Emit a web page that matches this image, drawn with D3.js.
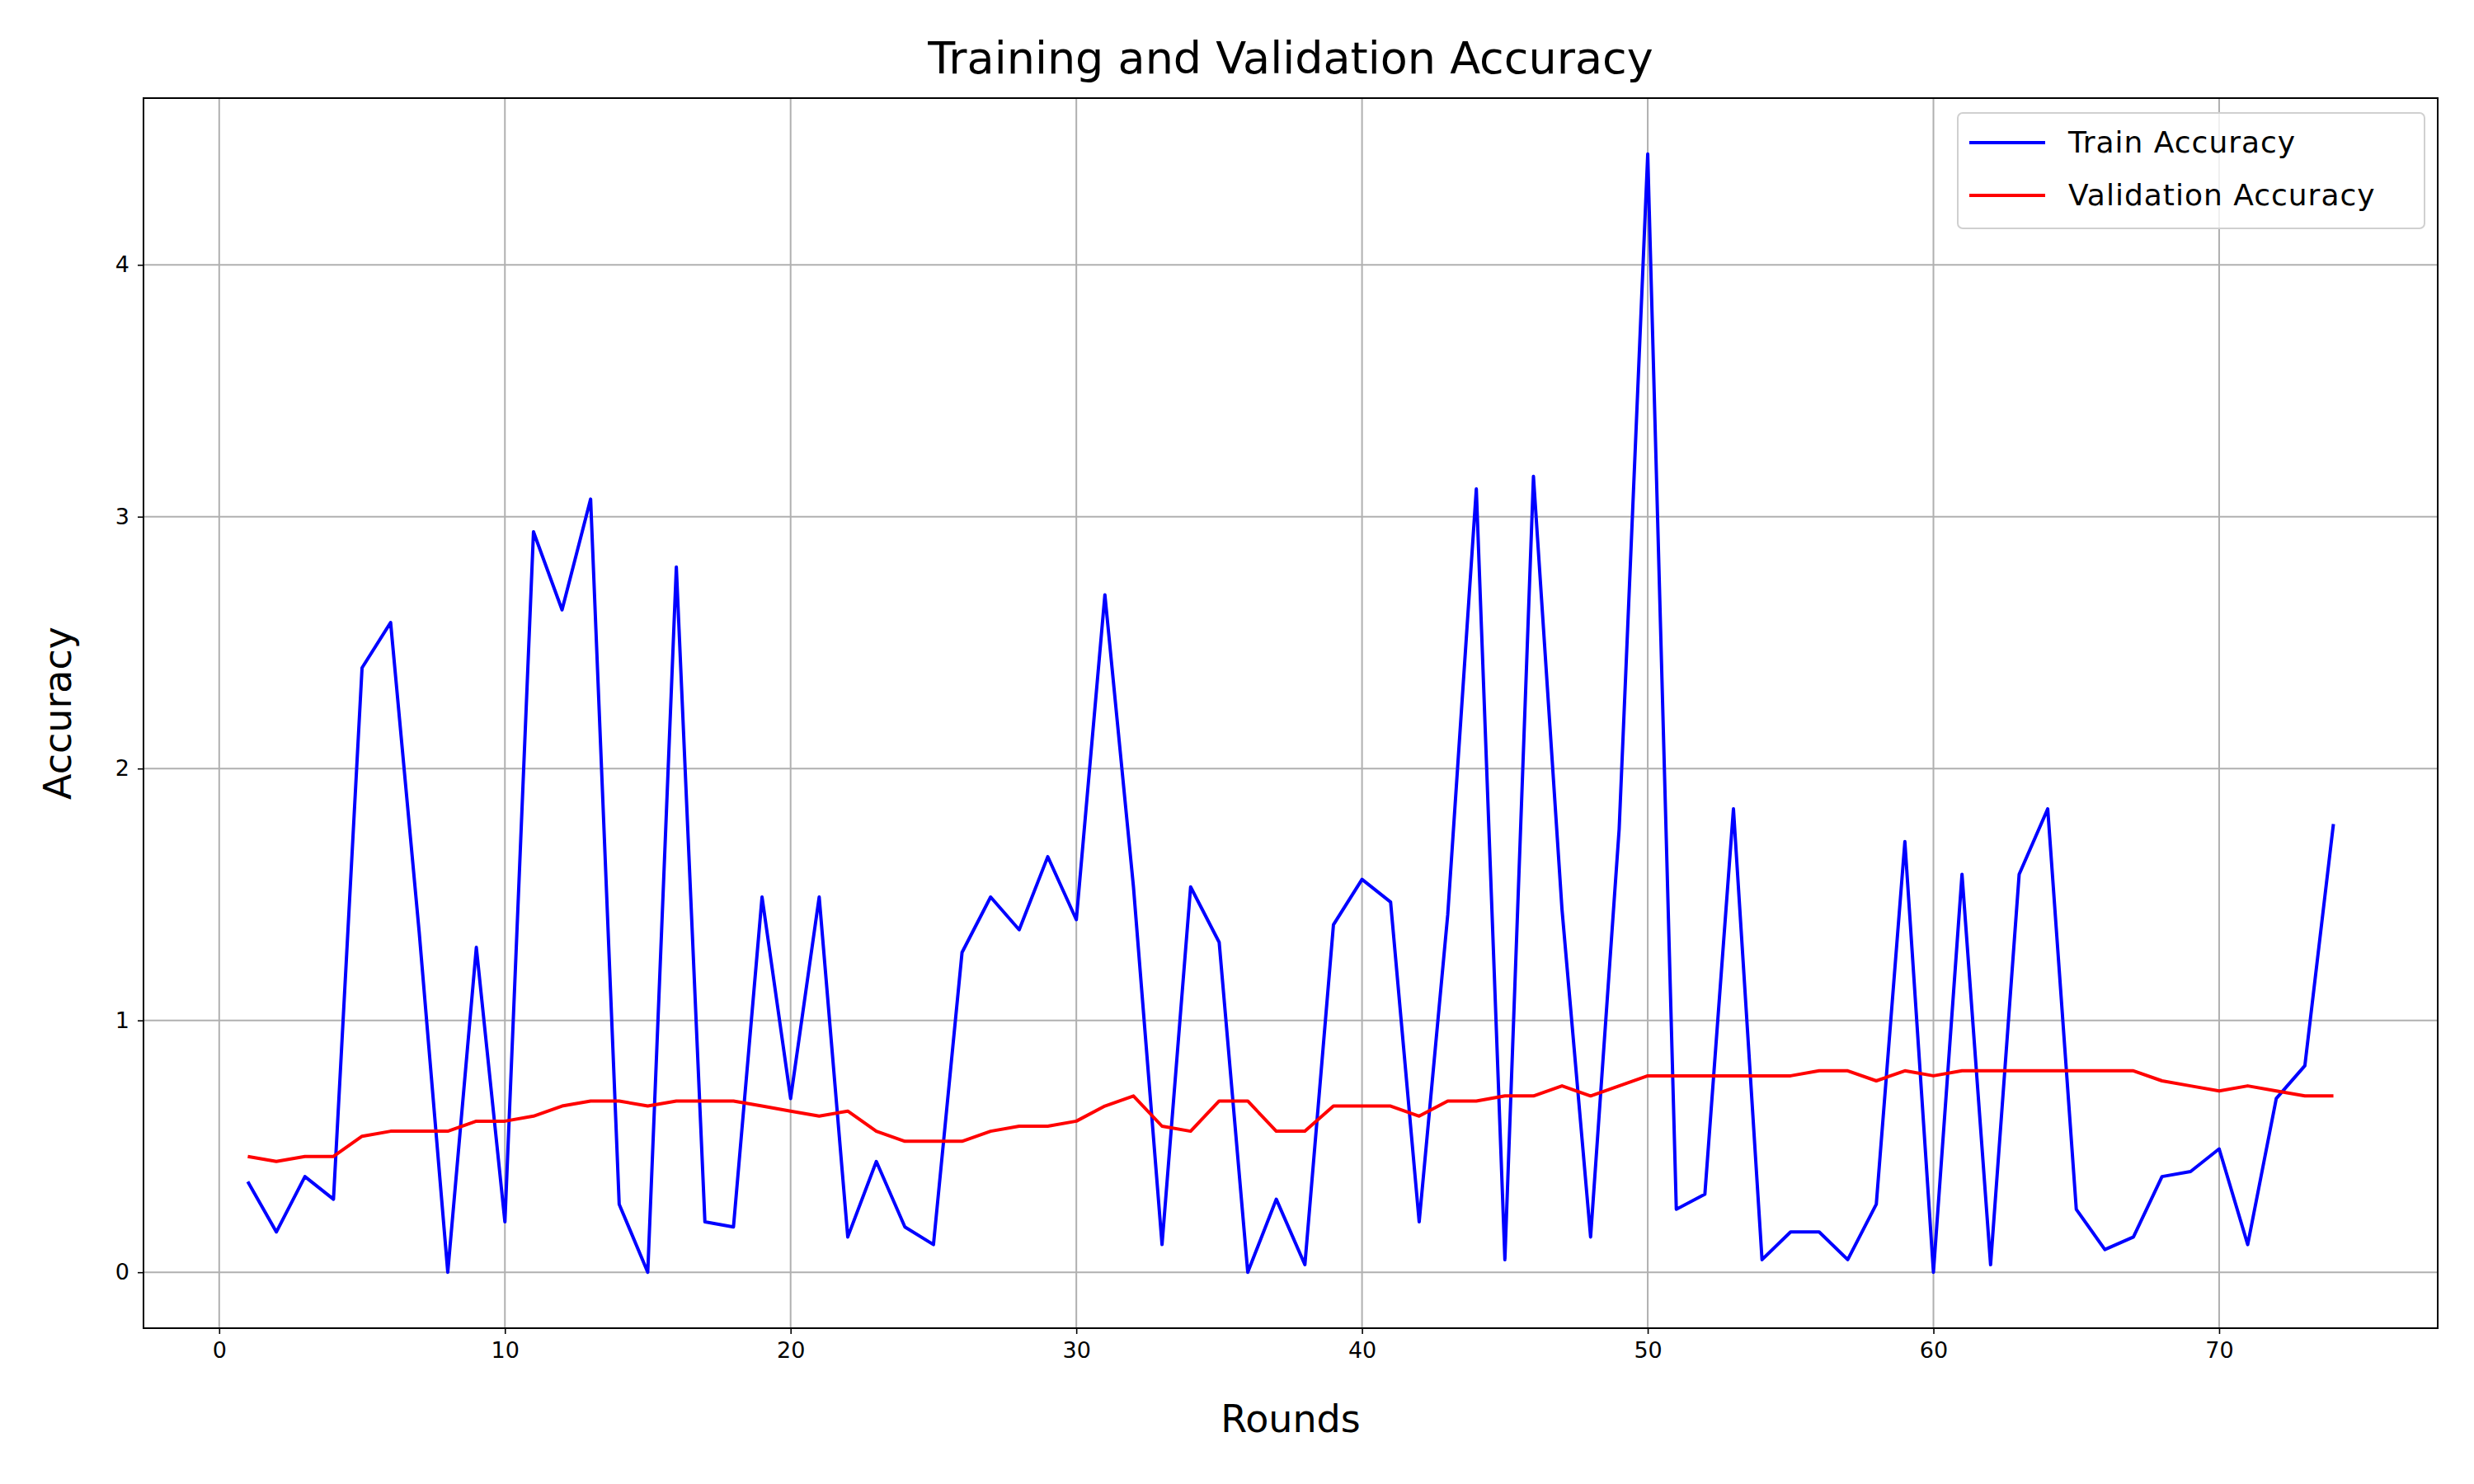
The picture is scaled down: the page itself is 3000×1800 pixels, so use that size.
<!DOCTYPE html>
<html><head><meta charset="utf-8">
<script src="https://cdn.jsdelivr.net/npm/d3@7"></script>
<style>body{margin:0;background:#fff}text{font-family:"DejaVu Sans",sans-serif}</style>
</head><body><div id="chart"></div>
<script>
var rounds = d3.range(1, 75);
var trainAcc = [0.36,0.16,0.38,0.29,2.40,2.58,1.35,0.0,1.29,0.20,2.94,2.63,3.07,0.27,0.0,2.80,0.20,0.18,1.49,0.69,
  1.49,0.14,0.44,0.18,0.11,1.27,1.49,1.36,1.65,1.40,2.69,1.53,0.11,1.53,1.31,0.0,0.29,0.03,1.38,1.56,
  1.47,0.20,1.42,3.11,0.05,3.16,1.44,0.14,1.76,4.44,0.25,0.31,1.84,0.05,0.16,0.16,0.05,0.27,1.71,0.0,
  1.58,0.03,1.58,1.84,0.25,0.09,0.14,0.38,0.40,0.49,0.11,0.69,0.82,1.78];
var valAcc = [0.46,0.44,0.46,0.46,0.54,0.56,0.56,0.56,0.60,0.60,0.62,0.66,0.68,0.68,0.66,0.68,0.68,0.68,0.66,0.64,
  0.62,0.64,0.56,0.52,0.52,0.52,0.56,0.58,0.58,0.60,0.66,0.70,0.58,0.56,0.68,0.68,0.56,0.56,0.66,0.66,
  0.66,0.62,0.68,0.68,0.70,0.70,0.74,0.70,0.74,0.78,0.78,0.78,0.78,0.78,0.78,0.80,0.80,0.76,0.80,0.78,
  0.80,0.80,0.80,0.80,0.80,0.80,0.80,0.76,0.74,0.72,0.74,0.72,0.70,0.70];
var xTicks = [0,10,20,30,40,50,60,70];
var yTicks = [0,1,2,3,4];

var W = 3000, H = 1800,
    margin = {top:119, left:174, right:44, bottom:189},
    width = W - margin.left - margin.right,
    height = H - margin.top - margin.bottom;

var svg = d3.select("#chart").append("svg").attr("width", W).attr("height", H)
  .append("g").attr("transform", "translate(" + margin.left + "," + margin.top + ")");

var x = d3.scaleLinear().domain([1 - 3.65, 74 + 3.65]).range([0, width]);
var yMax = d3.max(trainAcc), pad = yMax * 0.05;
var y = d3.scaleLinear().domain([-pad, yMax + pad]).range([height, 0]);

// grid
svg.append("g").selectAll("line").data(xTicks).enter().append("line")
  .attr("x1", d => x(d)).attr("x2", d => x(d)).attr("y1", 0).attr("y2", height)
  .attr("stroke", "#b0b0b0").attr("stroke-width", 2);
svg.append("g").selectAll("line").data(yTicks).enter().append("line")
  .attr("y1", d => y(d)).attr("y2", d => y(d)).attr("x1", 0).attr("x2", width)
  .attr("stroke", "#b0b0b0").attr("stroke-width", 2);

var xAxis = svg.append("g").attr("transform", "translate(0," + height + ")")
  .call(d3.axisBottom(x).tickValues(xTicks).tickSize(7).tickPadding(10).tickFormat(d3.format("d")));
var yAxis = svg.append("g")
  .call(d3.axisLeft(y).tickValues(yTicks).tickSize(7).tickPadding(10).tickFormat(d3.format("d")));
[xAxis, yAxis].forEach(function(a){
  a.select(".domain").remove();
  a.selectAll("line").attr("stroke", "#000").attr("stroke-width", 1.6);
  a.selectAll("text").attr("font-size", 27).attr("fill", "#000").style("font-family", "DejaVu Sans");
});

var line = function(vals){
  return d3.line().x((d, i) => x(rounds[i])).y(d => y(d))(vals);
};
svg.append("path").attr("d", line(trainAcc)).attr("fill", "none").attr("stroke", "blue").attr("stroke-width", 4).attr("stroke-linejoin", "round");
svg.append("path").attr("d", line(valAcc)).attr("fill", "none").attr("stroke", "red").attr("stroke-width", 4).attr("stroke-linejoin", "round");

svg.append("rect").attr("width", width).attr("height", height)
  .attr("fill", "none").attr("stroke", "#000").attr("stroke-width", 2);

// titles
svg.append("text").attr("x", width / 2).attr("y", -30).attr("text-anchor", "middle")
  .attr("font-size", 54).text("Training and Validation Accuracy");
svg.append("text").attr("x", width / 2).attr("y", height + 126).attr("text-anchor", "middle")
  .attr("font-size", 46).text("Rounds");
svg.append("text").attr("transform", "translate(-88," + height / 2 + ") rotate(-90)")
  .attr("text-anchor", "middle").attr("font-size", 46).text("Accuracy");

// legend
var legend = [{name:"Train Accuracy", color:"blue"}, {name:"Validation Accuracy", color:"red"}];
var lg = svg.append("g").attr("transform", "translate(" + (width - 582) + ",18)");
lg.append("rect").attr("width", 566).attr("height", 140).attr("rx", 6)
  .attr("fill", "#fff").attr("fill-opacity", 0.8).attr("stroke", "#d0d0d0").attr("stroke-width", 2);
legend.forEach(function(d, i){
  var ly = 36 + i * 64;
  lg.append("line").attr("x1", 14).attr("x2", 106).attr("y1", ly).attr("y2", ly)
    .attr("stroke", d.color).attr("stroke-width", 4);
  lg.append("text").attr("x", 134).attr("y", ly + 12).attr("font-size", 36).attr("letter-spacing", 1).text(d.name);
});
</script></body></html>
